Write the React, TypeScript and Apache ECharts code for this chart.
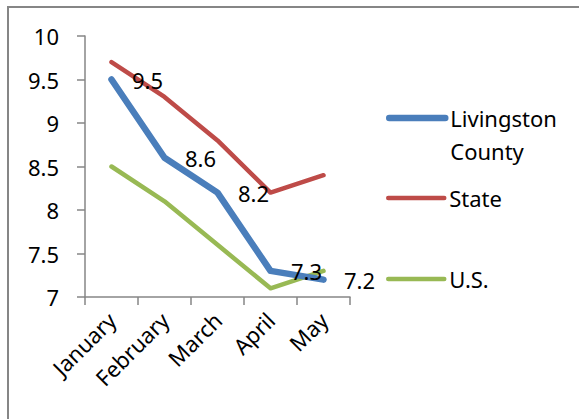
import React, { useEffect, useRef } from "react";
import * as echarts from "echarts";

const months = ["January", "February", "March", "April", "May"];
const livingston = [9.5, 8.6, 8.2, 7.3, 7.2];
const state = [9.7, 9.3, 8.8, 8.2, 8.4];
const us = [8.5, 8.1, 7.6, 7.1, 7.3];
const yTicks = { min: 7, max: 10, interval: 0.5 };

const FONT = "Noto Sans";
const FS = 22;
const AXIS_GRAY = "#868686";

export default function App() {
  const ref = useRef<HTMLDivElement>(null);
  useEffect(() => {
    if (!ref.current) return;
    const chart = echarts.init(ref.current, undefined, { renderer: "svg" });
    const legendText = {
      fontFamily: FONT,
      fontSize: FS,
      color: "#000",
      lineHeight: 33,
    };
    const legendCommon = {
      left: 381,
      itemWidth: 56,
      itemStyle: { opacity: 0 },
      textStyle: legendText,
    };
    chart.setOption({
      animation: false,
      backgroundColor: "#fff",
      grid: { left: 85, right: 229, top: 36, bottom: 122, containLabel: false },
      xAxis: {
        type: "category",
        data: months,
        boundaryGap: true,
        axisLine: { lineStyle: { color: AXIS_GRAY, width: 1.5 } },
        axisTick: { show: true, length: 8, alignWithLabel: false, lineStyle: { color: AXIS_GRAY, width: 1.5 } },
        axisLabel: {
          rotate: 45,
          margin: 19,
          interval: 0,
          fontFamily: FONT,
          fontSize: FS,
          color: "#000",
        },
        splitLine: { show: false },
      },
      yAxis: {
        type: "value",
        min: yTicks.min,
        max: yTicks.max,
        interval: yTicks.interval,
        axisLine: { show: true, lineStyle: { color: AXIS_GRAY, width: 1.5 } },
        axisTick: { show: true, length: 8, lineStyle: { color: AXIS_GRAY, width: 1.5 } },
        axisLabel: {
          margin: 26,
          fontFamily: FONT,
          fontSize: FS,
          color: "#000",
        },
        splitLine: { show: false },
      },
      legend: [
        {
          ...legendCommon,
          data: ["Livingston County"],
          top: 63.5,
          itemHeight: 6,
          lineStyle: { width: 6.5, cap: "round" },
          formatter: () => "\nLivingston\nCounty",
        },
        {
          ...legendCommon,
          data: ["State"],
          top: 176.5,
          itemHeight: 4,
          lineStyle: { width: 4.5, cap: "round" },
        },
        {
          ...legendCommon,
          data: ["U.S."],
          top: 257.5,
          itemHeight: 4,
          lineStyle: { width: 4.5, cap: "round" },
        },
      ],
      graphic: [
        {
          type: "rect",
          shape: { x: 8, y: 7, width: 700, height: 600 },
          style: { fill: "none", stroke: AXIS_GRAY, lineWidth: 2 },
          silent: true,
        },
      ],
      series: [
        {
          name: "State",
          type: "line",
          data: state,
          symbol: "circle",
          symbolSize: 1,
          showSymbol: true,
          lineStyle: { color: "#BE4B48", width: 4.5, cap: "round", join: "round" },
          itemStyle: { color: "#BE4B48" },
          z: 2,
        },
        {
          name: "U.S.",
          type: "line",
          data: us,
          symbol: "circle",
          symbolSize: 1,
          showSymbol: true,
          lineStyle: { color: "#98B954", width: 4.5, cap: "round", join: "round" },
          itemStyle: { color: "#98B954" },
          z: 2,
        },
        {
          name: "Livingston County",
          type: "line",
          data: livingston,
          symbol: "circle",
          symbolSize: 1,
          showSymbol: true,
          lineStyle: { color: "#4A7EBB", width: 6.5, cap: "round", join: "round" },
          itemStyle: { color: "#4A7EBB" },
          label: {
            show: true,
            position: "right",
            distance: 20,
            fontFamily: FONT,
            fontSize: FS,
            color: "#000",
          },
          z: 3,
        },
      ],
    });
    return () => chart.dispose();
  }, []);
  return (
    <div
      ref={ref}
      style={{ position: "fixed", left: 0, top: 0, width: 579, height: 419 }}
    />
  );
}
